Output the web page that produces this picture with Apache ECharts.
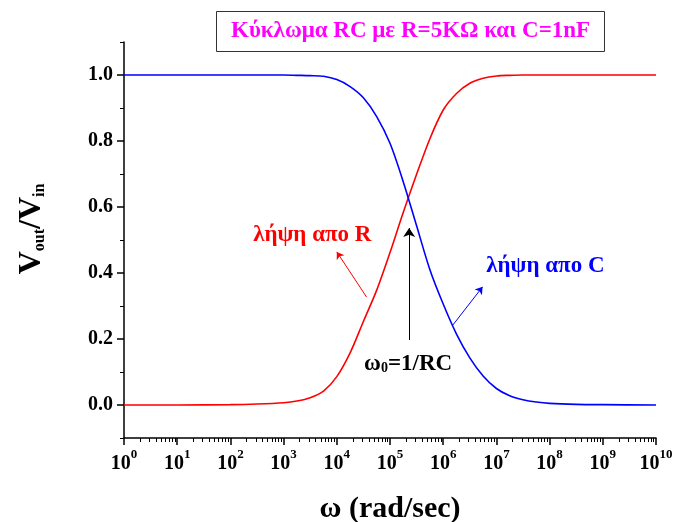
<!DOCTYPE html>
<html>
<head>
<meta charset="utf-8">
<script src="https://cdn.jsdelivr.net/npm/echarts@6/dist/echarts.min.js"></script>
<style>
  html, body { margin: 0; padding: 0; background: #fff; }
  #rc-chart { width: 675px; height: 522px; }
</style>
</head>
<body>
<div id="rc-chart"></div>
<script>
  // x = log10(ω), ω σε rad/sec
  var logOmega = [0, 1, 2, 2.5, 3, 3.25, 3.5, 3.75, 4, 4.25, 4.5, 4.75, 5, 5.25, 5.5, 5.75, 6, 6.25, 6.5, 6.75, 7, 7.25, 7.5, 7.75, 8, 8.5, 9, 10];
  // λήψη απο R
  var fromR = [0, 0, 0.001, 0.003, 0.007, 0.012, 0.022, 0.042, 0.086, 0.158, 0.253, 0.348, 0.462, 0.584, 0.699, 0.807, 0.894, 0.944, 0.975, 0.99, 0.997, 0.999, 1, 1, 1, 1, 1, 1];
  // λήψη απο C
  var fromC = [1, 1, 1, 1, 1, 0.999, 0.998, 0.996, 0.986, 0.965, 0.931, 0.874, 0.793, 0.676, 0.543, 0.41, 0.306, 0.215, 0.143, 0.088, 0.05, 0.028, 0.016, 0.009, 0.005, 0.002, 0.001, 0];
  var xDecades = [0, 1, 2, 3, 4, 5, 6, 7, 8, 9, 10];
  var yMajor = [0, 0.2, 0.4, 0.6, 0.8, 1.0];
  var yMinor = [-0.1, 0.1, 0.3, 0.5, 0.7, 0.9, 1.1];

  var FONT = 'Liberation Serif';

  function pairs(xs, ys) {
    var out = [];
    for (var i = 0; i < xs.length; i++) out.push([xs[i], ys[i]]);
    return out;
  }

  // minor ticks 2..9 μεσα σε καθε δεκαδα
  var xMinor = [];
  for (var d = 0; d < 10; d++) {
    for (var k = 2; k <= 9; k++) xMinor.push(d + Math.log10(k));
  }

  var axisLine = { show: true, onZero: false, lineStyle: { color: '#000', width: 1.5 } };
  var gridBox = { left: 124, right: 19, top: 42, bottom: 84, outerBoundsMode: 'none', containLabel: false };

  var myChart = echarts.init(document.getElementById('rc-chart'));
  var option = {
    backgroundColor: '#fff',
    animation: false,
    title: {
      text: 'Κύκλωμα RC με R=5KΩ και C=1nF',
      left: 216,
      top: 11,
      padding: [8, 15, 8, 15],
      borderColor: '#333',
      borderWidth: 1,
      textStyle: { color: '#ff00ff', fontSize: 23, fontWeight: 'bold', fontFamily: FONT, lineHeight: 25 }
    },
    // δευτερο grid στην ιδια θεση, μονο για τα minor ticks
    grid: [gridBox, gridBox],
    xAxis: [{
      type: 'value', min: 0, max: 10, position: 'bottom', gridIndex: 0,
      axisLine: axisLine,
      axisTick: { inside: false, length: 7, lineStyle: { width: 1.5, color: '#000' }, customValues: xDecades },
      axisLabel: {
        customValues: xDecades, margin: 14,
        formatter: function (v) { return '{b|10}{s|' + Math.round(v) + '}'; },
        rich: {
          b: { fontSize: 20, fontWeight: 'bold', fontFamily: FONT, color: '#000', lineHeight: 22, verticalAlign: 'bottom' },
          s: { fontSize: 13, fontWeight: 'bold', fontFamily: FONT, color: '#000', lineHeight: 13, verticalAlign: 'bottom', padding: [0, 0, 13, 0] }
        }
      },
      splitLine: { show: false },
      name: 'ω (rad/sec)', nameLocation: 'middle', nameGap: 56,
      nameTextStyle: { fontSize: 30, fontWeight: 'bold', fontFamily: FONT, color: '#000' }
    }, {
      type: 'value', min: 0, max: 10, position: 'bottom', gridIndex: 1,
      axisLine: { show: false, onZero: false },
      axisTick: { inside: false, length: 4, lineStyle: { width: 1, color: '#000' }, customValues: xMinor },
      axisLabel: { show: false },
      splitLine: { show: false }
    }],
    yAxis: [{
      type: 'value', min: -0.1, max: 1.1, position: 'left', gridIndex: 0,
      axisLine: axisLine,
      axisTick: { inside: false, length: 7, lineStyle: { width: 1.5, color: '#000' }, customValues: yMajor },
      axisLabel: {
        customValues: yMajor, margin: 11,
        formatter: function (v) { return v.toFixed(1); },
        fontSize: 20, fontWeight: 'bold', fontFamily: FONT, color: '#000'
      },
      splitLine: { show: false }
    }, {
      type: 'value', min: -0.1, max: 1.1, position: 'left', gridIndex: 1,
      axisLine: { show: false, onZero: false },
      axisTick: { inside: false, length: 4, lineStyle: { width: 1, color: '#000' }, customValues: yMinor },
      axisLabel: { show: false },
      splitLine: { show: false }
    }],
    series: [{
      name: 'λήψη απο R',
      type: 'line',
      data: pairs(logOmega, fromR),
      smooth: 0.3,
      showSymbol: false,
      lineStyle: { color: '#ff0000', width: 1.6 },
      itemStyle: { color: '#ff0000' },
      markLine: {
        silent: true,
        symbol: ['none', 'arrow'],
        symbolSize: 7,
        label: { show: false },
        data: [
          [{ coord: [4.56, 0.327], lineStyle: { color: '#ff0000', width: 1, type: 'solid' } }, { coord: [4.0, 0.464] }],
          [{ coord: [5.36, 0.197], lineStyle: { color: '#000', width: 1, type: 'solid' }, symbolSize: 9 }, { coord: [5.36, 0.536], symbolSize: 9 }]
        ]
      }
    }, {
      name: 'λήψη απο C',
      type: 'line',
      data: pairs(logOmega, fromC),
      smooth: 0.3,
      showSymbol: false,
      lineStyle: { color: '#0000ff', width: 1.6 },
      itemStyle: { color: '#0000ff' },
      markLine: {
        silent: true,
        symbol: ['none', 'arrow'],
        symbolSize: 7,
        label: { show: false },
        data: [
          [{ coord: [6.18, 0.242], lineStyle: { color: '#0000ff', width: 1, type: 'solid' } }, { coord: [6.74, 0.358] }]
        ]
      }
    }]
  };
  myChart.setOption(option);

  // κειμενα πανω στο διαγραμμα, σε συντεταγμενες δεδομενων
  function px(x, y) {
    return myChart.convertToPixel({ xAxisIndex: 0, yAxisIndex: 0 }, [x, y]);
  }
  var pR = px(3.54, 0.515);
  var pC = px(7.92, 0.422);
  var pW = px(5.34, 0.13);
  myChart.setOption({
    graphic: [{
      type: 'text', x: pR[0], y: pR[1],
      style: { text: 'λήψη απο R', fill: '#ff0000', font: 'bold 23px "Liberation Serif"', align: 'center', verticalAlign: 'middle' }
    }, {
      type: 'text', x: pC[0], y: pC[1],
      style: { text: 'λήψη απο C', fill: '#0000ff', font: 'bold 23px "Liberation Serif"', align: 'center', verticalAlign: 'middle' }
    }, {
      type: 'text', x: pW[0], y: pW[1],
      style: {
        text: '{a|ω}{s|0}{a|=1/RC}', align: 'center', verticalAlign: 'middle',
        rich: {
          a: { fontSize: 23, fontWeight: 'bold', fontFamily: FONT, fill: '#000', color: '#000', lineHeight: 26, verticalAlign: 'bottom' },
          s: { fontSize: 14, fontWeight: 'bold', fontFamily: FONT, fill: '#000', color: '#000', lineHeight: 10, verticalAlign: 'bottom' }
        }
      }
    }, {
      type: 'text', x: 31, y: 229, rotation: Math.PI / 2,
      style: {
        text: '{v|V}{s|out}{v|/V}{s|in}', align: 'center', verticalAlign: 'middle',
        rich: {
          v: { fontSize: 32, fontWeight: 'bold', fontFamily: FONT, fill: '#000', color: '#000', lineHeight: 34, verticalAlign: 'bottom' },
          s: { fontSize: 16, fontWeight: 'bold', fontFamily: FONT, fill: '#000', color: '#000', lineHeight: 12, verticalAlign: 'bottom' }
        }
      }
    }]
  });
</script>
</body>
</html>
